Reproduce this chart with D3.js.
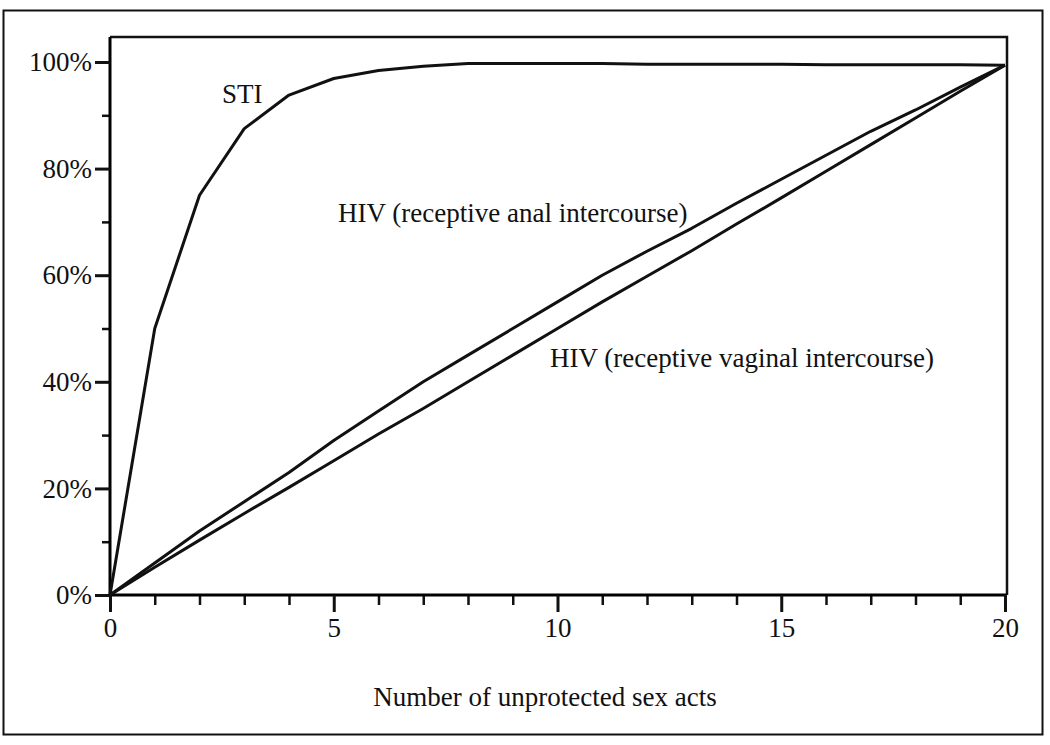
<!DOCTYPE html>
<html>
<head>
<meta charset="utf-8">
<script src="https://cdn.jsdelivr.net/npm/d3@7"></script>
<style>
  body { margin: 0; background: #fff; }
  text { font-family: "Liberation Serif", "DejaVu Serif", serif; fill: #111; }
</style>
</head>
<body>
<div id="chart"></div>
<script>
// number of acts, 0..20
var acts = d3.range(0, 21);
// cumulative probability (%)
var sti = [0, 50, 75, 87.5, 93.8, 96.9, 98.4, 99.2, 99.7, 99.7, 99.7, 99.7, 99.6, 99.6, 99.6, 99.6, 99.5, 99.5, 99.5, 99.5, 99.4];
var hivAnal = [0, 6, 12, 17.5, 23, 29, 34.5, 40, 45, 50, 55, 60, 64.5, 68.8, 73.5, 78, 82.5, 87, 91, 95.3, 99.4];
var hivVaginal = [0, 5.2, 10.3, 15.3, 20.2, 25.2, 30.2, 35, 40, 45, 50, 55, 59.8, 64.6, 69.6, 74.5, 79.5, 84.5, 89.5, 94.5, 99.4];
var yTickLabels = ["0%", "20%", "40%", "60%", "80%", "100%"];
var xTicks = [0, 5, 10, 15, 20];

var W = 1050, H = 745;
var svg = d3.select("#chart").append("svg")
  .attr("width", W).attr("height", H);

// outer box
svg.append("rect")
  .attr("x", 3.5).attr("y", 10.5)
  .attr("width", 1039).attr("height", 724)
  .attr("fill", "none").attr("stroke", "#111").attr("stroke-width", 2);

var x = d3.scaleLinear().domain([0, 20]).range([110, 1005]);
var y = d3.scaleLinear().domain([0, 100]).range([595, 62]);
var frameTop = 37;

// plot frame (top + right)
svg.append("path")
  .attr("d", "M" + x(0) + "," + frameTop + "H" + (x(20) + 2) + "V" + y(0))
  .attr("fill", "none").attr("stroke", "#111").attr("stroke-width", 2.5);

// y axis: minor + major ticks
var yMinor = svg.append("g").attr("transform", "translate(" + x(0) + ",0)")
  .call(d3.axisLeft(y).tickValues([10, 30, 50, 70, 90]).tickSize(8).tickFormat(""));
var yMajor = svg.append("g").attr("transform", "translate(" + x(0) + ",0)")
  .call(d3.axisLeft(y).tickValues([0, 20, 40, 60, 80, 100]).tickSize(15).tickPadding(3)
    .tickFormat(function(d, i) { return yTickLabels[i]; }));
yMinor.select(".domain").remove();
yMajor.select(".domain").attr("d", "M0," + frameTop + "V" + y(0)).attr("stroke-width", 3);

// x axis
var xMinor = svg.append("g").attr("transform", "translate(0," + y(0) + ")")
  .call(d3.axisBottom(x).tickValues(acts.filter(function(d) { return d % 5; })).tickSize(10).tickFormat(""));
var xMajor = svg.append("g").attr("transform", "translate(0," + y(0) + ")")
  .call(d3.axisBottom(x).tickValues(xTicks).tickSize(17).tickPadding(6));
xMinor.select(".domain").remove();
xMajor.select(".domain").attr("d", "M" + x(0) + ",0H" + (x(20) + 2)).attr("stroke-width", 3);

svg.selectAll(".tick line").attr("stroke", "#111").attr("stroke-width", 3);
xMinor.selectAll(".tick line").attr("stroke-width", 2.5);
yMinor.selectAll(".tick line").attr("stroke-width", 2.5);
svg.selectAll(".tick text").attr("font-size", 27).attr("fill", "#111")
  .style("font-family", "'Liberation Serif', serif");

// lines
var line = d3.line()
  .x(function(d, i) { return x(acts[i]); })
  .y(function(d) { return y(d); });

[sti, hivAnal, hivVaginal].forEach(function(s) {
  svg.append("path")
    .datum(s)
    .attr("d", line)
    .attr("fill", "none")
    .attr("stroke", "#111")
    .attr("stroke-width", 3)
    .attr("stroke-linejoin", "round");
});

// labels
svg.append("text").attr("x", 222).attr("y", 103).attr("font-size", 27).text("STI");
svg.append("text").attr("x", 338).attr("y", 222).attr("font-size", 27)
  .text("HIV (receptive anal intercourse)");
svg.append("text").attr("x", 550).attr("y", 367).attr("font-size", 27)
  .text("HIV (receptive vaginal intercourse)");
svg.append("text").attr("x", 545).attr("y", 706)
  .attr("text-anchor", "middle").attr("font-size", 27)
  .text("Number of unprotected sex acts");
</script>
</body>
</html>
